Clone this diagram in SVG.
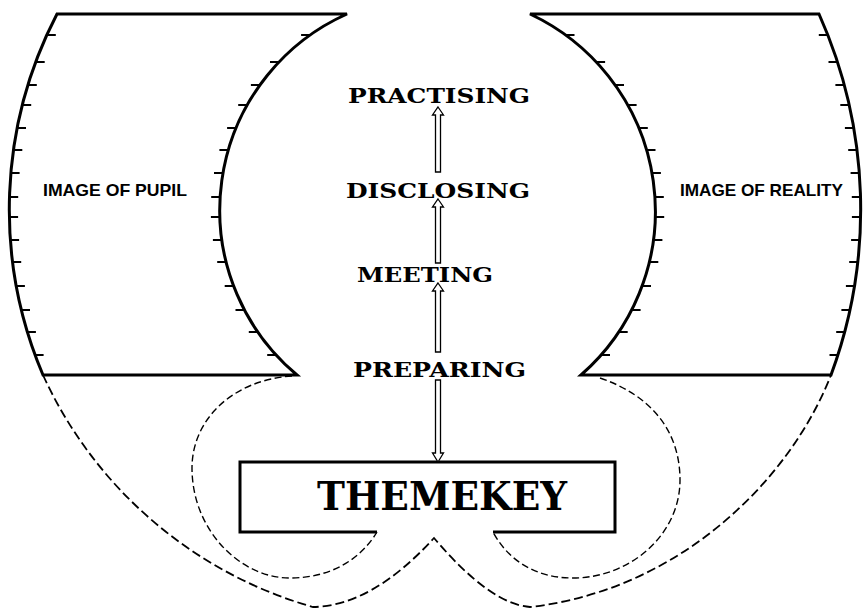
<svg xmlns="http://www.w3.org/2000/svg" width="864" height="608" viewBox="0 0 864 608">
<style>
.shape{fill:#fff;stroke:#000;stroke-width:3;stroke-linejoin:miter}
.tick{fill:none;stroke:#000;stroke-width:1.8}
.dash{fill:none;stroke:#000;stroke-width:1.8;stroke-dasharray:9 4}
.dash2{fill:none;stroke:#000;stroke-width:1.4;stroke-dasharray:7 3.5}
.box{fill:none;stroke:#000;stroke-width:3}
.arrow{fill:#fff;stroke:#000;stroke-width:1.3;stroke-linejoin:miter}
.small{font-family:"Liberation Sans",Arial,sans-serif;font-weight:bold;font-size:17px;fill:#000}
.step{font-family:"DejaVu Serif","Liberation Serif",serif;font-weight:bold;font-size:20.5px;fill:#000}
.key{font-family:"DejaVu Serif","Liberation Serif",serif;font-weight:bold;font-size:39px;fill:#000}
</style>
<rect width="864" height="608" fill="#fff"/>
<g id="outline">
<path class="dash" d="M43 375 A424 424 0 0 0 313 607 Q372 606 434 538 Q490 604 530 607 C680 590 790 480 831 375"/>
<path class="dash2" d="M292 376 C232 380 192 420 192 468 C192 530 240 578 290 578 C330 578 360 560 377 532"/>
<path class="dash2" d="M600 378 C650 395 680 430 680 480 C680 535 630 578 573 578 C535 578 508 560 493 532"/>
</g>
<g id="image-of-pupil">
<path class="shape" d="M57 14 L347 14 A214.7 214.7 0 0 0 297 375 L43 375 A424 424 0 0 1 57 14 Z"/>
<path class="tick" d="M46.8 35h9M35.7 62h9M27.8 85h9M22.2 105h9M17 128h9M13.3 150h9M10.6 173h9M9.2 197h9M9.1 217h9M10.1 240h9M12.2 262h9M15.9 286h9M21 310h9M26.9 332h9M34.6 355h9"/>
<path class="tick" d="M301.1 35h9M270 62h9M250.9 85h9M238.2 105h9M227.1 128h9M219.4 150h9M214 173h9M211.2 197h9M210.9 217h9M212.9 240h9M217.2 262h9M224.7 286h9M235.5 310h9M248.8 332h9M267.2 355h9"/>
<text class="small" x="43" y="196" textLength="144" lengthAdjust="spacingAndGlyphs">IMAGE OF PUPIL</text>
</g>
<g id="image-of-reality">
<path class="shape" d="M530 14 L819 14 A478 478 0 0 1 831 375 L581 375 A217.7 217.7 0 0 0 530 14 Z"/>
<path class="tick" d="M565.5 35h9M596.1 62h9M615 85h9M627.6 105h9M638.8 128h9M646.5 150h9M651.9 173h9M654.8 197h9M655.2 217h9M653.4 240h9M649.3 262h9M642 286h9M631.6 310h9M618.7 332h9M601 355h9"/>
<path class="tick" d="M818.8 35h9M828.5 62h9M835.4 85h9M840.3 105h9M844.9 128h9M848.2 150h9M850.6 173h9M851.8 197h9M851.9 217h9M851.1 240h9M849.2 262h9M845.9 286h9M841.4 310h9M836.2 332h9M829.5 355h9"/>
<text class="small" x="680" y="196" textLength="163" lengthAdjust="spacingAndGlyphs">IMAGE OF REALITY</text>
</g>
<g id="practising"><text class="step" x="348" y="103" textLength="182" lengthAdjust="spacingAndGlyphs">PRACTISING</text></g>
<g id="disclosing"><text class="step" x="346" y="198" textLength="184" lengthAdjust="spacingAndGlyphs">DISCLOSING</text></g>
<g id="meeting"><text class="step" x="357" y="282" textLength="136" lengthAdjust="spacingAndGlyphs">MEETING</text></g>
<g id="preparing"><text class="step" x="353" y="377" textLength="173" lengthAdjust="spacingAndGlyphs">PREPARING</text></g>
<g id="themekey">
<path class="box" d="M377 532 H240 V462 H615 V532 H493"/>
<text class="key" x="317" y="510" textLength="250" lengthAdjust="spacingAndGlyphs">THEMEKEY</text>
</g>
<g id="connectors">
<path class="arrow" d="M438 107 L443.5 115 L440.5 115 L440.5 172 L435.5 172 L435.5 115 L432.5 115 Z"/>
<path class="arrow" d="M438 199 L443.5 207 L440.5 207 L440.5 263 L435.5 263 L435.5 207 L432.5 207 Z"/>
<path class="arrow" d="M438 283 L443.5 291 L440.5 291 L440.5 352 L435.5 352 L435.5 291 L432.5 291 Z"/>
<path class="arrow" d="M438 462 L443.5 453 L440.5 453 L440.5 380 L435.5 380 L435.5 453 L432.5 453 Z"/>
</g>
</svg>
